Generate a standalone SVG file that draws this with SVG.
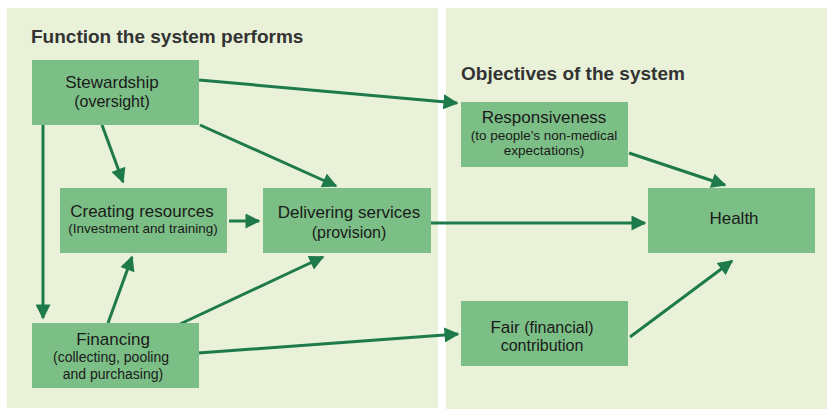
<svg xmlns="http://www.w3.org/2000/svg" width="827" height="409" viewBox="0 0 827 409">
  <style>
    .panel { fill: #e9f2d8; }
    .box { fill: #7cbf86; }
    .title { font-family: "Liberation Sans", Arial, sans-serif; font-weight: bold; font-size: 19px; fill: #333333; }
    .main { font-family: "Liberation Sans", Arial, sans-serif; font-size: 17px; fill: #1a1a1a; text-anchor: middle; }
    .sub { font-family: "Liberation Sans", Arial, sans-serif; font-size: 14px; fill: #1a1a1a; text-anchor: middle; }
    .sub16 { font-family: "Liberation Sans", Arial, sans-serif; font-size: 16px; fill: #1a1a1a; text-anchor: middle; }
    .sub13 { font-family: "Liberation Sans", Arial, sans-serif; font-size: 13.5px; fill: #1a1a1a; text-anchor: middle; }
    .link { stroke: #1e7a4b; stroke-width: 3; fill: none; marker-end: url(#arrow); }
  </style>
  <defs>
    <marker id="arrow" viewBox="0 0 10 10" refX="9" refY="5" markerWidth="5.2" markerHeight="5" markerUnits="strokeWidth" orient="auto">
      <path d="M0,0 L10,5 L0,10 Z" fill="#1e7a4b"/>
    </marker>
  </defs>

  <rect width="827" height="409" fill="#ffffff"/>

  <!-- two panels -->
  <rect class="panel" x="7" y="8" width="431" height="400"/>
  <rect class="panel" x="446" y="8" width="381" height="401"/>
  <text class="title" x="31" y="43">Function the system performs</text>
  <text class="title" x="461" y="80">Objectives of the system</text>

  <!-- connectors -->
  <g id="connectors">
    <path class="link" d="M199,80 L457,103"/>
    <path class="link" d="M102,125 L123,182"/>
    <path class="link" d="M200,125 L336,186"/>
    <path class="link" d="M43,125 L43,318"/>
    <path class="link" d="M229,221 L259,221"/>
    <path class="link" d="M108,323 L132,257"/>
    <path class="link" d="M178,325 L323,257"/>
    <path class="link" d="M198,353 L458,334"/>
    <path class="link" d="M431,223 L645,223"/>
    <path class="link" d="M629,153 L725,185"/>
    <path class="link" d="M630,337 L732,261"/>
  </g>

  <g id="stewardship">
    <rect class="box" x="32" y="60" width="167" height="65"/>
    <text class="main" x="112" y="88">Stewardship</text>
    <text class="sub16" x="112" y="107">(oversight)</text>
  </g>

  <g id="creating-resources">
    <rect class="box" x="60" y="188" width="167" height="65"/>
    <text class="main" x="142" y="217">Creating resources</text>
    <text class="sub13" x="143" y="233">(Investment and training)</text>
  </g>

  <g id="delivering-services">
    <rect class="box" x="263" y="188" width="168" height="65"/>
    <text class="main" x="349" y="218">Delivering services</text>
    <text class="sub16" x="349" y="238">(provision)</text>
  </g>

  <g id="financing">
    <rect class="box" x="32" y="323" width="167" height="65"/>
    <text class="main" x="113" y="345">Financing</text>
    <text class="sub" x="111" y="362">(collecting, pooling</text>
    <text class="sub" x="113" y="379">and purchasing)</text>
  </g>

  <g id="responsiveness">
    <rect class="box" x="461" y="102" width="167" height="65"/>
    <text class="main" x="544" y="123">Responsiveness</text>
    <text class="sub13" x="544" y="140">(to people's non-medical</text>
    <text class="sub13" x="544" y="155">expectations)</text>
  </g>

  <g id="health">
    <rect class="box" x="648" y="188" width="167" height="65"/>
    <text class="main" x="734" y="224">Health</text>
  </g>

  <g id="fair-contribution">
    <rect class="box" x="461" y="301" width="167" height="65"/>
    <text class="sub16" x="542" y="333"><tspan font-size="17px">Fair</tspan> (financial)</text>
    <text class="sub16" x="542" y="351">contribution</text>
  </g>
</svg>
